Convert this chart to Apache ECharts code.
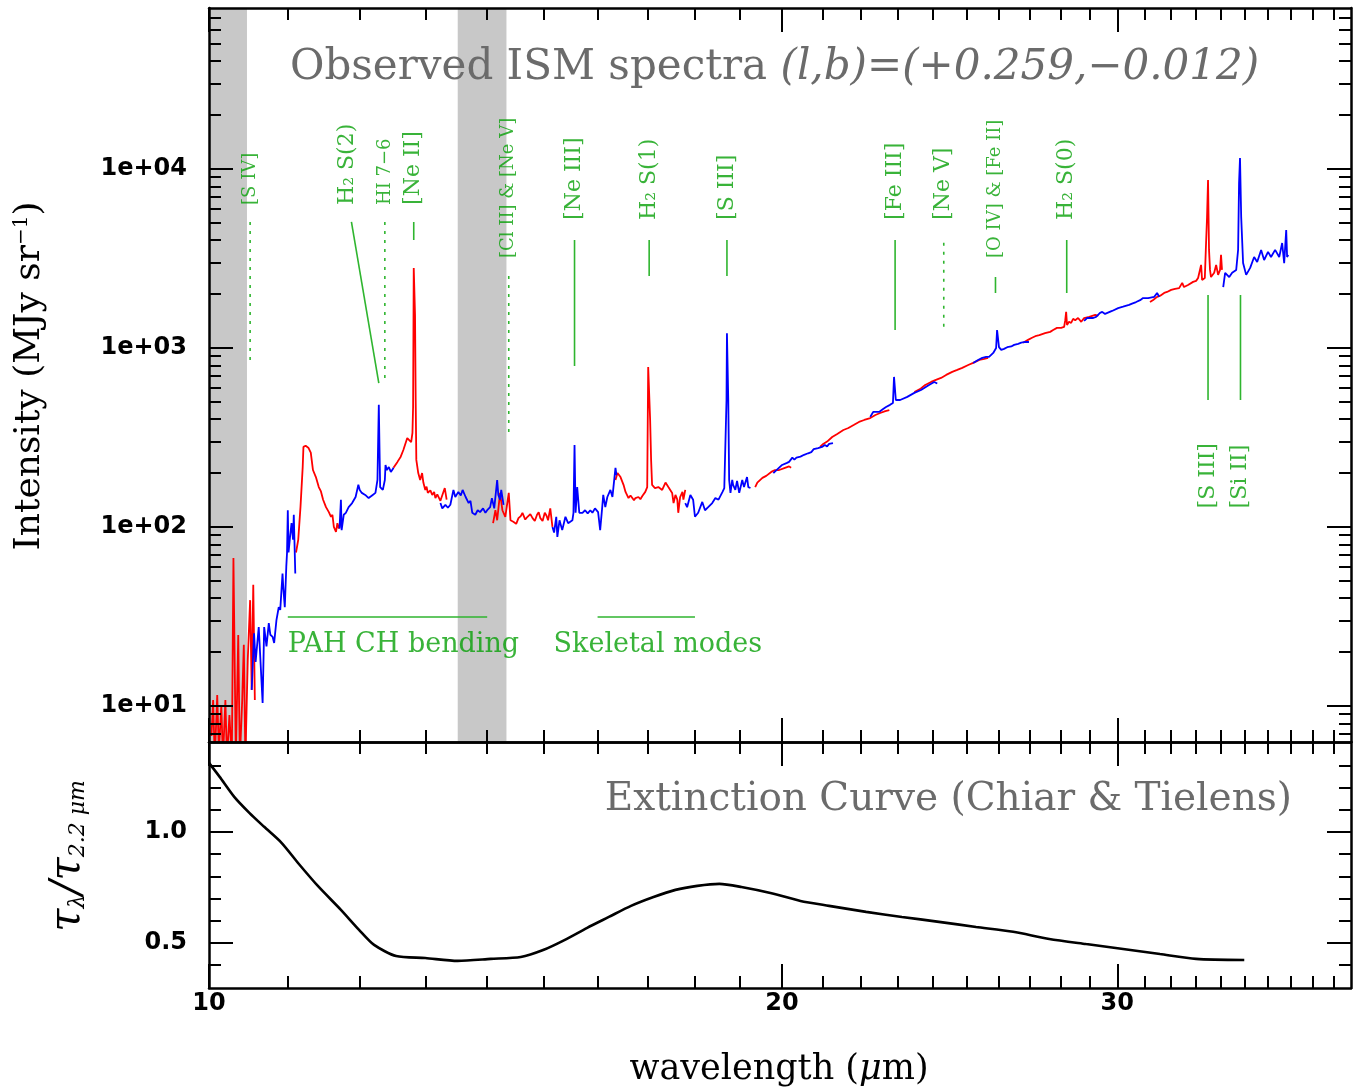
<!DOCTYPE html>
<html>
<head>
<meta charset="utf-8">
<script src="https://cdn.jsdelivr.net/npm/echarts@6/dist/echarts.min.js"></script>
<style>
  html, body { margin: 0; padding: 0; background: #ffffff; }
  #chart { width: 1371px; height: 1089px; }
</style>
</head>
<body>
<div id="chart"></div>
<script>
// ---------------------------------------------------------------
// Spectrum: [wavelength (um), intensity (MJy/sr)], one array per order.
// Red and blue orders alternate along the wavelength axis.
// ---------------------------------------------------------------
const redSegments = [
  [[10.03,6.8],[10.05,10.8],[10.07,5],[10.10,11.5],[10.12,5.5],[10.15,10.1],[10.17,5],[10.20,10.8],[10.22,5],[10.25,8.9],[10.28,5],[10.30,67],[10.33,5],[10.36,24.9],[10.38,5],[10.41,10.8],[10.43,22],[10.45,5],[10.48,18.1],[10.51,39],[10.53,12.3],[10.55,47.5],[10.57,10.8]],
  [[11.11,72],[11.14,85],[11.17,129],[11.20,216],[11.21,280],[11.24,284],[11.28,276],[11.31,260],[11.34,208],[11.38,190],[11.42,167],[11.45,158],[11.48,142],[11.52,129],[11.56,121],[11.59,114],[11.61,117],[11.63,100],[11.66,94],[11.68,105],[11.70,98],[11.73,109]],
  [[12.50,214],[12.56,231],[12.61,247],[12.65,269],[12.71,314],[12.74,306],[12.77,298],[12.79,335],[12.80,468],[12.81,2800],[12.83,1530],[12.84,512],[12.85,237],[12.88,200],[12.91,183],[12.94,200],[12.96,177],[12.99,161],[13.01,168],[13.03,155],[13.07,160],[13.10,151],[13.13,157],[13.15,145],[13.18,152],[13.20,155],[13.23,140],[13.26,142],[13.30,165],[13.33,142]],
  [[14.10,105],[14.14,124],[14.17,109],[14.22,155],[14.26,124],[14.31,114],[14.37,155],[14.40,109],[14.45,107],[14.50,104],[14.54,112],[14.58,115],[14.61,120],[14.66,110],[14.70,114],[14.75,118],[14.79,112],[14.83,108],[14.87,117],[14.90,121],[14.93,112],[14.97,108],[15.01,120],[15.04,116],[15.07,109],[15.11,127],[15.15,100]],
  [[16.35,183],[16.39,200],[16.45,190],[16.51,172],[16.55,157],[16.61,145],[16.65,150],[16.69,147],[16.72,141],[16.75,145],[16.81,147],[16.85,143],[16.89,149],[16.95,157],[16.99,167],[17.01,783],[17.03,803],[17.05,396],[17.07,237],[17.09,172],[17.15,165],[17.22,167],[17.30,161],[17.37,177],[17.43,167],[17.51,155],[17.54,136],[17.58,151],[17.62,142],[17.64,120],[17.68,147],[17.73,157],[17.75,142],[17.79,161]],
  [[19.36,167],[19.41,177],[19.53,188],[19.62,193],[19.74,203],[19.83,208],[19.93,208],[20.07,214],[20.17,218],[20.22,214]],
  [[20.94,280],[21.02,291],[21.12,300],[21.25,318],[21.38,331],[21.54,348],[21.67,357],[21.82,372],[21.95,386],[22.09,396],[22.25,406],[22.39,422],[22.52,433],[22.66,444],[22.77,450]],
  [[23.47,568],[23.63,589],[23.78,621],[23.95,646],[24.09,663],[24.24,680],[24.39,707],[24.57,735],[24.72,754],[24.87,774],[25.05,803],[25.20,825],[25.39,857],[25.54,869],[25.66,880]],
  [[26.77,1070],[26.93,1110],[27.06,1140],[27.20,1170],[27.30,1180],[27.49,1210],[27.66,1230],[27.76,1260],[27.89,1295],[28.03,1295],[28.13,1310],[28.17,1430],[28.20,1590],[28.23,1345],[28.30,1400],[28.37,1380],[28.44,1455],[28.51,1430],[28.61,1470],[28.72,1400],[28.82,1470],[29.00,1490],[29.21,1530],[29.32,1510]],
  [[31.21,1805],[31.33,1853],[31.48,1930],[31.60,1960],[31.75,2030],[31.86,2055],[32.02,2110],[32.17,2140],[32.33,2160],[32.45,2310],[32.52,2190],[32.68,2250],[32.88,2340],[33.00,2370],[33.08,2460],[33.16,2400],[33.20,2910],[33.24,2400],[33.28,2340],[33.35,2460],[33.39,3530],[33.44,5390],[33.48,8680],[33.52,3530],[33.56,2730],[33.60,2490],[33.73,2630],[33.81,2910],[33.89,2560],[33.97,2730],[34.01,3310],[34.05,2730]]
];

const blueSegments = [
  [[10.53,12.3],[10.56,25.5],[10.58,17.6],[10.62,27.6],[10.65,15.4],[10.67,10.4],[10.69,27.6],[10.72,21.5],[10.75,29],[10.77,25],[10.80,24.3],[10.82,22.5],[10.85,30.2],[10.88,35.6],[10.90,34.4],[10.93,55],[10.94,46],[10.96,35.6],[10.98,60],[10.99,72],[11.00,124],[11.01,72],[11.03,88],[11.05,105],[11.07,85],[11.08,117],[11.10,55]],
  [[11.71,98],[11.73,142],[11.74,96],[11.77,117],[11.80,120],[11.84,129],[11.89,136],[11.94,147],[11.98,172],[12.00,161],[12.03,155],[12.08,151],[12.13,145],[12.19,151],[12.23,155],[12.26,183],[12.28,481],[12.29,280],[12.30,167],[12.34,161],[12.37,183],[12.38,222],[12.40,208],[12.43,216],[12.46,203],[12.49,211],[12.50,214]],
  [[13.23,136],[13.26,127],[13.31,133],[13.35,128],[13.39,133],[13.44,161],[13.47,147],[13.52,157],[13.56,150],[13.59,161],[13.64,147],[13.69,136],[13.72,140],[13.75,120],[13.80,117],[13.84,124],[13.88,121],[13.93,127],[13.97,120],[14.00,124],[14.05,129],[14.08,145],[14.12,127],[14.17,183],[14.19,151],[14.22,142],[14.24,161],[14.28,133]],
  [[15.15,100],[15.18,93],[15.22,114],[15.24,88],[15.28,109],[15.33,96],[15.39,114],[15.44,105],[15.52,109],[15.54,120],[15.56,287],[15.58,120],[15.61,167],[15.65,120],[15.71,120],[15.76,124],[15.81,119],[15.86,124],[15.90,120],[15.95,127],[16.01,121],[16.05,96],[16.09,129],[16.11,151],[16.15,129],[16.19,147],[16.25,161],[16.29,147],[16.31,167],[16.35,214],[16.37,195]],
  [[17.79,136],[17.83,129],[17.90,151],[17.96,142],[18.00,114],[18.07,120],[18.16,138],[18.22,124],[18.29,129],[18.38,136],[18.45,145],[18.52,142],[18.61,157],[18.65,165],[18.70,512],[18.71,1210],[18.74,512],[18.76,183],[18.79,155],[18.83,183],[18.85,172],[18.90,161],[18.94,181],[18.99,155],[19.06,183],[19.10,167],[19.17,190],[19.20,167],[19.25,165]],
  [[19.79,200],[19.83,203],[20.00,222],[20.12,228],[20.17,231],[20.25,244],[20.30,238],[20.35,244],[20.45,247],[20.54,253],[20.58,250],[20.64,258],[20.72,262],[20.78,272],[20.82,269],[20.89,276],[20.99,280],[21.06,287],[21.12,282],[21.17,291],[21.27,294]],
  [[22.25,412],[22.33,439],[22.49,439],[22.60,456],[22.68,468],[22.79,481],[22.87,493],[22.90,689],[22.93,698],[22.95,512],[22.98,499],[23.07,512],[23.27,533],[23.47,561],[23.66,582],[23.89,621],[24.04,646],[24.13,633]],
  [[25.20,825],[25.35,857],[25.48,880],[25.60,891],[25.69,891],[25.82,938],[25.88,950],[25.91,1000],[25.94,1260],[25.97,1230],[26.00,1010],[26.07,975],[26.16,988],[26.26,1010],[26.39,1020],[26.48,1040],[26.61,1055],[26.71,1070],[26.84,1080],[26.96,1080]],
  [[28.82,1415],[28.92,1470],[28.99,1490],[29.14,1470],[29.24,1490],[29.38,1570],[29.46,1590],[29.56,1550],[29.63,1570],[29.81,1610],[30.03,1670],[30.21,1700],[30.43,1740],[30.54,1770],[30.69,1805],[30.84,1850],[30.95,1900],[31.14,1900],[31.37,1930],[31.48,2030],[31.56,1930]],
  [[34.10,2190],[34.18,2630],[34.35,2490],[34.47,2630],[34.64,2730],[34.72,3530],[34.76,8350],[34.80,11510],[34.85,5390],[34.93,2980],[35.06,2560],[35.23,2800],[35.40,3220],[35.53,3020],[35.70,3530],[35.83,3100],[36.00,3440],[36.13,3220],[36.31,3530],[36.49,3220],[36.62,3860],[36.71,2980],[36.80,4560],[36.84,3220],[36.89,3310]]
];

// Extinction curve tau_lambda / tau_2.2um
const extinctionCurve = [
  [10.00,1.311],[10.13,1.248],[10.31,1.158],[10.50,1.086],[10.69,1.023],[10.92,0.950],[11.16,0.851],[11.42,0.752],[11.73,0.649],[11.99,0.559],[12.21,0.491],[12.54,0.441],[12.99,0.432],[13.51,0.419],[14.06,0.428],[14.58,0.437],[14.98,0.468],[15.38,0.514],[15.80,0.568],[16.22,0.617],[16.66,0.667],[17.12,0.707],[17.58,0.739],[18.05,0.757],[18.54,0.766],[19.04,0.752],[19.72,0.725],[20.45,0.689],[21.17,0.667],[22.14,0.640],[23.12,0.617],[24.18,0.595],[25.29,0.572],[26.45,0.550],[27.63,0.518],[28.89,0.495],[30.21,0.473],[31.59,0.450],[33.00,0.428],[34.98,0.423]
];

// Masked wavelength ranges (um)
const maskedRanges = [[10.0, 10.47], [13.51, 14.33]];

// Line identifications
const featureNames = ['[S IV]', 'H\u2082 S(2)', 'HI 7\u22126', '[Ne II]', '[Cl II] & [Ne V]', '[Ne III]', 'H\u2082 S(1)', '[S III]', '[Fe III]', '[Ne V]', '[O IV] & [Fe II]', 'H\u2082 S(0)', '[S III]', '[Si II]'];
const featureWavelengths = [10.51, 12.28, 12.37, 12.81, 14.37, 15.56, 17.03, 18.71, 22.93, 24.32, 25.89, 28.22, 33.48, 34.82];

// Broad band identifications
const bandNames = ['PAH CH bending', 'Skeletal modes'];
const bandRanges = [[11.0, 14.0], [16.0, 18.0]];

// Axis ticks
const wavelengthTicks = [10, 20, 30];
const wavelengthTickLabels = ['10', '20', '30'];
const wavelengthMinorTicks = [11,12,13,14,15,16,17,18,19,21,22,23,24,25,26,27,28,29,31,32,33,34,35,36,37,38,39];
const intensityTicks = [10, 100, 1000, 10000];
const intensityTickLabels = ['1e+01', '1e+02', '1e+03', '1e+04'];
const intensityMinorTicks = [7,8,9,20,30,40,50,60,70,80,90,200,300,400,500,600,700,800,900,2000,3000,4000,5000,6000,7000,8000,9000,20000,30000,40000,50000,60000,70000];
const tauTicks = [0.5, 1.0];
const tauTickLabels = ['0.5', '1.0'];
const tauMinorTicks = [0.4, 0.6, 0.7, 0.8, 0.9, 1.1, 1.2, 1.3];

// ---------------------------------------------------------------
// Layout and styling
// ---------------------------------------------------------------
const X_RANGE = [10, 39.8];
const I_RANGE = [6.29, 79300];
const T_RANGE = [0.297, 1.405];
const GREEN_TEXT = '#08a008';
const GREEN_LINE = '#2fb52f';
const SERIF = "'DejaVu Serif', 'Liberation Serif', serif";
const TICKFONT = "'DejaVu Sans', 'Liberation Sans', sans-serif";

// Per-feature marker geometry (intensity units): tick top/bottom, label base
const featureMarks = [
  { top: 5058, bottom: 857,  label: 6295, dotted: true,  small: true },            // [S IV]
  { top: 5058, bottom: 637,  label: 6295, leanFrom: 11.88, labelAt: 11.82 },       // H2 S(2)
  { top: 5058, bottom: 646,  label: 6295, dotted: true,  small: true },            // HI 7-6
  { top: 5058, bottom: 4010, label: 6295 },                                        // [Ne II]
  { top: 2524, bottom: 326,  label: 3183, dotted: true,  small: true },            // [Cl II] & [Ne V]
  { top: 4010, bottom: 793,  label: 5190 },                                        // [Ne III]
  { top: 4010, bottom: 2524, label: 5190 },                                        // H2 S(1)
  { top: 4010, bottom: 2524, label: 5190 },                                        // [S III]
  { top: 4010, bottom: 1261, label: 5190 },                                        // [Fe III]
  { top: 3865, bottom: 1261, label: 5190, dotted: true },                          // [Ne V]
  { top: 2494, bottom: 2029, label: 3183, small: true },                           // [O IV] & [Fe II]
  { top: 4010, bottom: 2029, label: 5190 },                                        // H2 S(0)
  { top: 1977, bottom: 512,  label: 127 },                                         // [S III]
  { top: 1977, bottom: 512,  label: 127 }                                          // [Si II]
];
const bandBarLevel = 31.4;
const bandLabelLevel = 21.9;
const bandLabelStart = [11.0, 15.17];

function nearestLabel(ticks, labels) {
  return function (v) {
    let k = 0;
    for (let i = 1; i < ticks.length; i++) {
      if (Math.abs(ticks[i] - v) < Math.abs(ticks[k] - v)) k = i;
    }
    return labels[k];
  };
}

// One frame edge = a long-tick axis (with the frame line) plus a short-tick axis
function edge(grid, position, kind, range, major, minor, labelOpt) {
  const base = {
    gridIndex: grid, position: position, type: kind, min: range[0], max: range[1],
    z: 10, silent: true,
    splitLine: { show: false }, minorTick: { show: false }, minorSplitLine: { show: false },
    axisPointer: { show: false }
  };
  if (kind === 'log') base.logBase = 10;
  const majorAxis = Object.assign({}, base, {
    axisLine: { show: true, onZero: false, lineStyle: { color: '#000', width: 2.5 } },
    axisTick: { show: true, inside: true, length: 24, customValues: major, lineStyle: { color: '#000', width: 2 } },
    axisLabel: labelOpt ? labelOpt : { show: false }
  });
  const minorAxis = Object.assign({}, base, {
    axisLine: { show: false, onZero: false },
    axisTick: { show: true, inside: true, length: 12, customValues: minor, lineStyle: { color: '#000', width: 2 } },
    axisLabel: { show: false }
  });
  return [majorAxis, minorAxis];
}

const tickLabelStyle = { show: true, fontFamily: TICKFONT, fontWeight: 'bold', fontSize: 24, color: '#000' };

const xAxes = [].concat(
  edge(0, 'bottom', 'log', X_RANGE, wavelengthTicks, wavelengthMinorTicks),
  edge(0, 'top', 'log', X_RANGE, wavelengthTicks, wavelengthMinorTicks),
  edge(1, 'bottom', 'log', X_RANGE, wavelengthTicks, wavelengthMinorTicks,
    Object.assign({}, tickLabelStyle, { customValues: wavelengthTicks, margin: 4,
      formatter: nearestLabel(wavelengthTicks, wavelengthTickLabels) })),
  edge(1, 'top', 'log', X_RANGE, wavelengthTicks, wavelengthMinorTicks)
);
const yAxes = [].concat(
  edge(0, 'left', 'log', I_RANGE, intensityTicks, intensityMinorTicks,
    Object.assign({}, tickLabelStyle, { customValues: intensityTicks, margin: 22,
      formatter: nearestLabel(intensityTicks, intensityTickLabels) })),
  edge(0, 'right', 'log', I_RANGE, intensityTicks, intensityMinorTicks),
  edge(1, 'left', 'value', T_RANGE, tauTicks, tauMinorTicks,
    Object.assign({}, tickLabelStyle, { customValues: tauTicks, margin: 22,
      formatter: nearestLabel(tauTicks, tauTickLabels) })),
  edge(1, 'right', 'value', T_RANGE, tauTicks, tauMinorTicks)
);

const series = [];

// Masked ranges, behind everything
series.push({
  type: 'line', xAxisIndex: 0, yAxisIndex: 0, data: [], z: 0, silent: true,
  markArea: {
    silent: true,
    itemStyle: { color: '#c8c8c8', opacity: 1 },
    data: maskedRanges.map(r => [{ xAxis: r[0] }, { xAxis: r[1] }])
  }
});

function spectrumSeries(points, color) {
  return {
    type: 'line', xAxisIndex: 0, yAxisIndex: 0, data: points, z: 3,
    symbol: 'none', showSymbol: false, silent: true, clip: true,
    lineStyle: { color: color, width: 1.8 }
  };
}
redSegments.forEach(seg => series.push(spectrumSeries(seg, '#ff0000')));
blueSegments.forEach(seg => series.push(spectrumSeries(seg, '#0000ff')));

// Line identification markers and labels
const labelPoints = [];
featureWavelengths.forEach((wl, i) => {
  const m = featureMarks[i];
  const x0 = m.leanFrom !== undefined ? m.leanFrom : wl;
  series.push({
    type: 'line', xAxisIndex: 0, yAxisIndex: 0, z: 4, silent: true,
    symbol: 'none', showSymbol: false,
    data: [[x0, m.top], [wl, m.bottom]],
    lineStyle: { color: GREEN_LINE, width: 1.6, type: m.dotted ? [3, 6] : 'solid' }
  });
  labelPoints.push({
    value: [m.labelAt !== undefined ? m.labelAt : wl, m.label],
    name: featureNames[i],
    label: { fontSize: m.small ? 18 : 22 }
  });
});
series.push({
  type: 'scatter', xAxisIndex: 0, yAxisIndex: 0, z: 5, silent: true,
  symbolSize: 0.1, itemStyle: { color: 'rgba(0,0,0,0)' },
  data: labelPoints,
  label: {
    show: true, position: 'inside', rotate: 90, align: 'left', verticalAlign: 'middle',
    formatter: p => p.name, fontFamily: SERIF, color: GREEN_TEXT
  }
});

// Broad band bars and labels
bandRanges.forEach(r => {
  series.push({
    type: 'line', xAxisIndex: 0, yAxisIndex: 0, z: 4, silent: true,
    symbol: 'none', showSymbol: false,
    data: [[r[0], bandBarLevel], [r[1], bandBarLevel]],
    lineStyle: { color: GREEN_LINE, width: 1.6 }
  });
});
series.push({
  type: 'scatter', xAxisIndex: 0, yAxisIndex: 0, z: 5, silent: true,
  symbolSize: 0.1, itemStyle: { color: 'rgba(0,0,0,0)' },
  data: bandNames.map((n, i) => ({ value: [bandLabelStart[i], bandLabelLevel], name: n })),
  label: {
    show: true, position: 'inside', align: 'left', verticalAlign: 'middle',
    formatter: p => p.name, fontFamily: SERIF, fontSize: 27, color: GREEN_TEXT
  }
});

// Extinction curve panel
series.push({
  type: 'line', xAxisIndex: 4, yAxisIndex: 4, data: extinctionCurve, z: 3,
  symbol: 'none', showSymbol: false, silent: true, smooth: 0.25,
  lineStyle: { color: '#000', width: 2.6 }
});

const chart = echarts.init(document.getElementById('chart'), null, { renderer: 'canvas' });
chart.setOption({
  animation: false,
  backgroundColor: '#ffffff',
  grid: [
    { left: 209, right: 20, top: 8, height: 734, containLabel: false, outerBoundsMode: 'none' },
    { left: 209, right: 20, top: 742, height: 246, containLabel: false, outerBoundsMode: 'none' }
  ],
  xAxis: xAxes,
  yAxis: yAxes,
  series: series,
  graphic: [
    {
      type: 'text', z: 100, silent: true, x: 290, y: 68,
      style: {
        text: '{n|Observed ISM spectra }{i|(l,b)=(+0.259,\u22120.012)}',
        align: 'left', verticalAlign: 'middle', fill: '#6b6b6b',
        rich: {
          n: { fontFamily: SERIF, fontSize: 42, fill: '#6b6b6b' },
          i: { fontFamily: SERIF, fontSize: 42, fontStyle: 'italic', fill: '#6b6b6b' }
        }
      }
    },
    {
      type: 'text', z: 100, silent: true, x: 1292, y: 800,
      style: {
        text: 'Extinction Curve (Chiar & Tielens)',
        align: 'right', verticalAlign: 'middle', fill: '#6b6b6b',
        fontFamily: SERIF, fontSize: 39
      }
    },
    {
      type: 'text', z: 100, silent: true, x: 30, y: 376, rotation: Math.PI / 2,
      style: {
        text: '{n|Intensity (MJy sr}{p|\u22121}{n|)}',
        align: 'center', verticalAlign: 'middle', fill: '#000',
        rich: {
          n: { fontFamily: SERIF, fontSize: 36, fill: '#000' },
          p: { fontFamily: SERIF, fontSize: 20, fill: '#000', verticalAlign: 'top' }
        }
      }
    },
    {
      type: 'text', z: 100, silent: true, x: 68, y: 856, rotation: Math.PI / 2,
      style: {
        text: '{g|\u03c4}{s|\u03bb}{g|/\u03c4}{s|2.2 \u03bcm}',
        align: 'center', verticalAlign: 'middle', fill: '#000',
        rich: {
          g: { fontFamily: SERIF, fontSize: 42, fontStyle: 'italic', fill: '#000' },
          s: { fontFamily: SERIF, fontSize: 22, fontStyle: 'italic', fill: '#000', verticalAlign: 'bottom' }
        }
      }
    },
    {
      type: 'text', z: 100, silent: true, x: 779, y: 1070,
      style: {
        text: '{n|wavelength (}{m|\u03bc}{n|m)}',
        align: 'center', verticalAlign: 'middle', fill: '#000',
        rich: {
          n: { fontFamily: SERIF, fontSize: 35, fill: '#000' },
          m: { fontFamily: SERIF, fontSize: 35, fontStyle: 'italic', fill: '#000' }
        }
      }
    }
  ]
});
</script>
</body>
</html>
